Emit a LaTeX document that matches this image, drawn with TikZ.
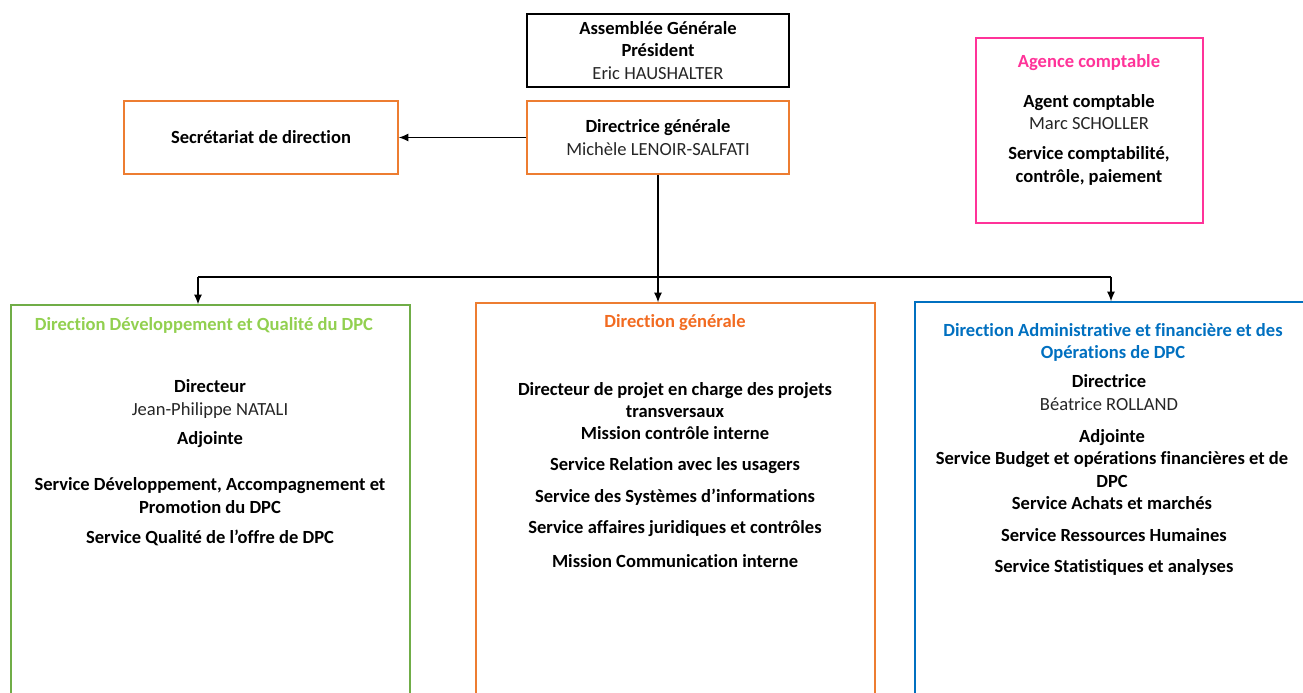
\documentclass[tikz,border=0pt]{standalone}
\usepackage{fontspec}
\setmainfont[Ligatures=NoCommon]{Carlito}
\usetikzlibrary{positioning}
\usetikzlibrary{arrows.meta}
\usetikzlibrary{calc}

\definecolor{dgreen}{HTML}{70AD47}
\definecolor{lgreen}{HTML}{92D050}
\definecolor{borange}{HTML}{ED7D31}
\definecolor{torange}{HTML}{F26B21}
\definecolor{pinkc}{HTML}{FF3399}
\definecolor{bluec}{HTML}{0070C0}
\definecolor{namegray}{HTML}{262626}

\begin{document}
\begin{tikzpicture}[
    x=0.02cm, y=-0.02cm,
    font=\fontsize{10.55}{12.6}\selectfont,
    block/.style={rectangle, draw=black, fill=white, line width=0.8pt, inner sep=0pt},
    txt/.style={align=center, inner sep=0pt},
    arr/.style={-{Latex[length=5.5pt,width=4.5pt]}, line width=0.7pt},
]
    \clip (0,0) rectangle (1303,693);

    \node[block, minimum width=5.24cm, minimum height=1.46cm] (AG) at (658,50.5) {};
    \node[block, draw=borange, minimum width=5.24cm, minimum height=1.46cm] (DG) at (658,137.5) {};
    \node[block, draw=borange, minimum width=5.48cm, minimum height=1.46cm] (SEC) at (261,137.5) {};
    \node[block, draw=pinkc, minimum width=4.54cm, minimum height=3.7cm] (AC) at (1089.5,130.5) {};

    \node[block, draw=dgreen, minimum width=7.98cm, minimum height=9.1cm] (DDQ) at (210.5,532.5) {};
    \node[block, draw=borange, minimum width=7.98cm, minimum height=9.14cm] (DGEN) at (675.5,531.5) {};
    \node[block, draw=bluec, minimum width=8.1cm, minimum height=9.16cm] (DAF) at (1117.5,531) {};

    % top boxes
    \node[txt] (agt) at (AG) {\textbf{Assemblée Générale}\\\textbf{Président}\\\textcolor{namegray}{Eric HAUSHALTER}};
    \node[txt] (dgt) at (DG) {\textbf{Directrice générale}\\\textcolor{namegray}{Michèle LENOIR-SALFATI}};
    \node[txt] (sect) at (SEC) {\textbf{Secrétariat de direction}};

    \node[txt, text=pinkc] (act) at (1089,63) {\textbf{Agence comptable}};
    \node[txt] (acn) at (1089,112) {\textbf{Agent comptable}\\\textcolor{namegray}{Marc SCHOLLER}};
    \node[txt] (acs) at (1089,166) {\textbf{Service comptabilité,}\\\textbf{contrôle, paiement}};

    % left box
    \node[txt, text=lgreen] (ddqt) at (204,325) {\textbf{Direction Développement et Qualité du DPC}};
    \node[txt] (ddq1) at (210,399) {\textbf{Directeur}\\\textcolor{namegray}{Jean-Philippe NATALI}};
    \node[txt] (ddq2) at (210,440) {\textbf{Adjointe}};
    \node[txt] (ddq3) at (210,495.5) {\textbf{Service Développement, Accompagnement et}\\\textbf{Promotion du DPC}};
    \node[txt] (ddq4) at (210,538) {\textbf{Service Qualité de l’offre de DPC}};

    % middle box
    \node[txt, text=torange] (dgent) at (675,323) {\textbf{Direction générale}};
    \node[txt] (dgen1) at (675,411) {\textbf{Directeur de projet en charge des projets}\\\textbf{transversaux}\\\textbf{Mission contrôle interne}};
    \node[txt] (dgen2) at (675,466) {\textbf{Service Relation avec les usagers}};
    \node[txt] (dgen3) at (675,497) {\textbf{Service des Systèmes d’informations}};
    \node[txt] (dgen4) at (675,529) {\textbf{Service affaires juridiques et contrôles}};
    \node[txt] (dgen5) at (675,561) {\textbf{Mission Communication interne}};

    % right box
    \node[txt, text=bluec] (daft) at (1113,342.5) {\textbf{Direction Administrative et financière et des}\\\textbf{Opérations de DPC}};
    \node[txt] (daf1) at (1109,392.5) {\textbf{Directrice}\\\textcolor{namegray}{Béatrice ROLLAND}};
    \node[txt] (daf2) at (1112,469.5) {\textbf{Adjointe}\\\textbf{Service Budget et opérations financières et de}\\\textbf{DPC}\\\textbf{Service Achats et marchés}};
    \node[txt] (daf3) at (1114,535) {\textbf{Service Ressources Humaines}};
    \node[txt] (daf4) at (1114,567) {\textbf{Service Statistiques et analyses}};

    % connectors
    \draw[arr] (DG.west) -- (SEC.east);
    \coordinate (split) at (658,277);
    \coordinate (jl) at (198,277);
    \coordinate (jr) at (1111,277);
    \draw[arr] (DG.south) -- (DG.south |- DGEN.north);
    \draw[line width=0.7pt] (jl) -- (jr);
    \draw[arr] (jl) -- (jl |- DDQ.north);
    \draw[arr] (jr) -- (jr |- DAF.north);
\end{tikzpicture}
\end{document}
